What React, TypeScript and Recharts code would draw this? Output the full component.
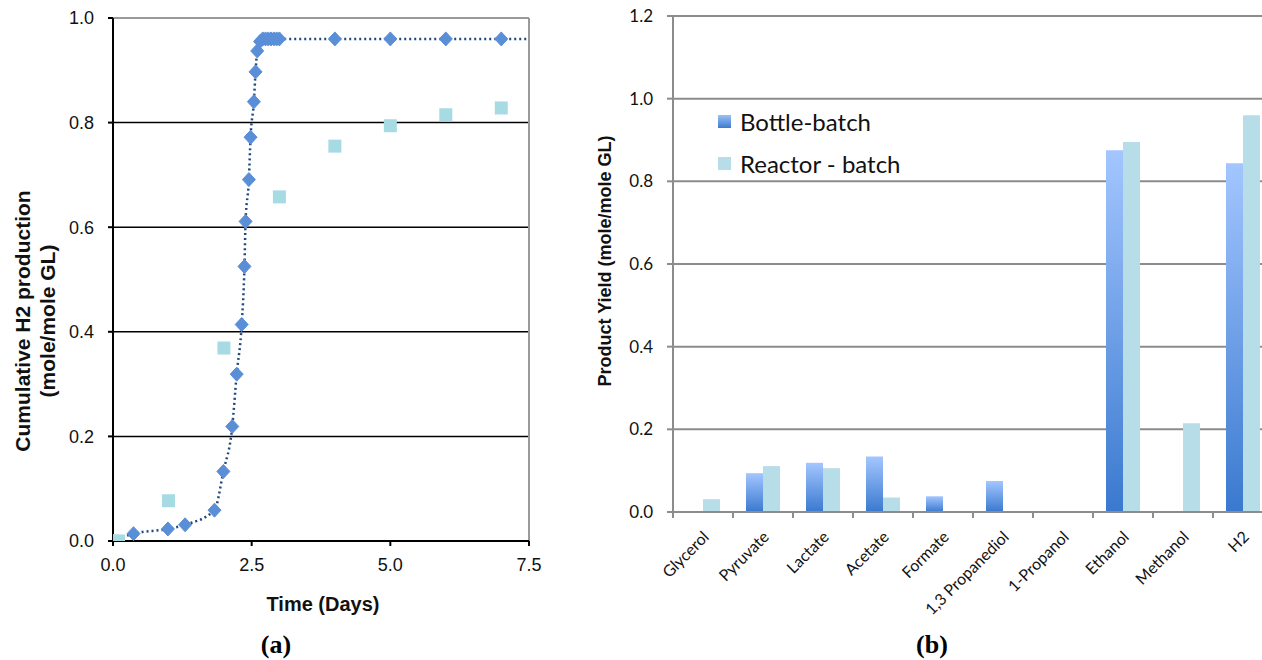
import React from 'react';
import {
  ComposedChart, Line, Scatter, XAxis, YAxis, CartesianGrid, ReferenceLine,
  BarChart, Bar,
} from 'recharts';

// ---------- Panel (a): cumulative H2 production ----------
const bottleTime = [0, 0.37, 0.99, 1.3, 1.83, 1.99, 2.15, 2.23, 2.32, 2.37, 2.39, 2.45, 2.48, 2.54, 2.57, 2.6, 2.65, 2.7, 2.75, 2.8, 2.85, 2.9, 2.95, 3.0, 4, 5, 6, 7];
const bottleH2 = [0, 0.014, 0.023, 0.031, 0.059, 0.133, 0.219, 0.319, 0.414, 0.525, 0.611, 0.691, 0.772, 0.84, 0.897, 0.937, 0.955, 0.96, 0.96, 0.96, 0.96, 0.96, 0.96, 0.96, 0.96, 0.96, 0.96, 0.96];
const curveEndTime = [7.5];
const curveEndH2 = [0.96];
const reactorTime = [0, 0.1, 1, 2, 3, 4, 5, 6, 7];
const reactorH2 = [0, 0, 0.077, 0.369, 0.658, 0.755, 0.794, 0.815, 0.828];
const timeTicks = [0, 2.5, 5, 7.5];
const h2Ticks = [0, 0.2, 0.4, 0.6, 0.8, 1.0];

// ---------- Panel (b): product yields ----------
const products = ['Glycerol', 'Pyruvate', 'Lactate', 'Acetate', 'Formate', '1,3 Propanediol', '1-Propanol', 'Ethanol', 'Methanol', 'H2'];
const bottleYield = [0, 0.094, 0.119, 0.134, 0.038, 0.075, 0, 0.875, 0, 0.844];
const reactorYield = [0.031, 0.111, 0.106, 0.035, 0, 0, 0, 0.895, 0.215, 0.96];
const yieldTicks = [0, 0.2, 0.4, 0.6, 0.8, 1.0, 1.2];
const seriesNames = ['Bottle-batch', 'Reactor - batch'];

const bottlePoints = bottleTime.map((x, i) => ({ x, y: bottleH2[i] }));
const curvePoints = bottlePoints.concat(curveEndTime.map((x, i) => ({ x, y: curveEndH2[i] })));
const reactorPoints = reactorTime.map((x, i) => ({ x, y: reactorH2[i] }));
const yieldData = products.map((name, i) => ({ name, bottle: bottleYield[i], reactor: reactorYield[i] }));

const ARIAL = '"Liberation Sans", Arial, sans-serif';
const CAL = 'Lato, "Liberation Sans", sans-serif';
const SERIF = '"Liberation Serif", "Times New Roman", serif';

const Diamond = (props: any) => {
  const { cx, cy } = props;
  if (cx == null || cy == null) return null;
  return <polygon points={`${cx},${cy - 7} ${cx + 6.5},${cy} ${cx},${cy + 7} ${cx - 6.5},${cy}`} fill="#5a8fd8" stroke="#5a8fd8" strokeWidth={1} strokeLinejoin="round" />;
};
const Square = (props: any) => {
  const { cx, cy } = props;
  if (cx == null || cy == null) return null;
  return <rect x={cx - 6.5} y={cy - 6.5} width={13} height={13} fill="#a6dbe4" />;
};

const HALF_BAND = 30;
const CatTick = (props: any) => {
  const { x, y, payload } = props;
  return (
    <g>
      <line x1={x - HALF_BAND} x2={x - HALF_BAND} y1={y} y2={y + 6} stroke="#8c8c8c" strokeWidth={2} />
      <text transform={`translate(${x + 3},${y + 22}) rotate(-45)`} textAnchor="end" dy="0.35em" fontSize={16} fontFamily={CAL} fill="#111">
        {payload.value}
      </text>
    </g>
  );
};

const rot = (left: number, top: number, extra: any = {}) => ({
  position: 'absolute' as const, left, top, transform: 'translate(-50%, -50%) rotate(-90deg)', whiteSpace: 'nowrap' as const, ...extra,
});

export default function App() {
  return (
    <div style={{ position: 'absolute', left: 0, top: 0, width: 1262, height: 660, overflow: 'hidden', background: '#fff' }}>
      {/* Panel (a) */}
      <div style={{ position: 'absolute', left: 0, top: 0 }}>
        <ComposedChart width={560} height={660} margin={{ top: 18, right: 31, left: 53, bottom: 89 }}>
          <CartesianGrid horizontal vertical={false} stroke="#000" strokeWidth={1.5} />
          <XAxis type="number" dataKey="x" domain={[0, 7.5]} ticks={timeTicks} allowDataOverflow
            tickFormatter={(v: number) => v.toFixed(1)} stroke="#000" strokeWidth={2} tickSize={5} tickMargin={12} height={30}
            tick={{ fill: '#111', fontSize: 18, fontFamily: ARIAL }} />
          <YAxis type="number" dataKey="y" domain={[0, 1]} ticks={h2Ticks} allowDataOverflow
            tickFormatter={(v: number) => v.toFixed(1)} stroke="#000" strokeWidth={2} tickSize={5} tickMargin={14} width={60}
            tick={{ fill: '#111', fontSize: 18, fontFamily: ARIAL }} />
          <ReferenceLine y={1} stroke="#9a9a9a" strokeWidth={2} />
          <ReferenceLine x={7.5} stroke="#9a9a9a" strokeWidth={2} />
          <Line data={curvePoints} dataKey="y" type="monotone" stroke="#1f497d" strokeWidth={2.5} strokeDasharray="2 3" dot={false} activeDot={false} isAnimationActive={false} />
          <Scatter data={bottlePoints} dataKey="y" shape={Diamond} isAnimationActive={false} />
          <Scatter data={reactorPoints} dataKey="y" shape={Square} isAnimationActive={false} />
        </ComposedChart>
      </div>
      <div style={rot(35, 321, { fontFamily: ARIAL, fontWeight: 'bold', fontSize: 21, lineHeight: '25px', textAlign: 'center', color: '#111' })}>
        Cumulative H2 production<br />(mole/mole GL)
      </div>
      <div style={{ position: 'absolute', left: 323, top: 604, transform: 'translate(-50%, -50%)', fontFamily: ARIAL, fontWeight: 'bold', fontSize: 20, color: '#111', whiteSpace: 'nowrap' }}>
        Time (Days)
      </div>
      <div style={{ position: 'absolute', left: 276, top: 645, transform: 'translate(-50%, -50%)', fontFamily: SERIF, fontWeight: 'bold', fontSize: 26, color: '#000' }}>
        (a)
      </div>

      {/* Panel (b) */}
      <div style={{ position: 'absolute', left: 560, top: 0 }}>
        <BarChart width={733} height={660} data={yieldData} margin={{ top: 16, right: 20, left: 53, bottom: 48 }} barSize={17} barGap={0}>
          <defs>
            <linearGradient id="bottleGrad" x1="0" y1="0" x2="0" y2="1">
              <stop offset="0%" stopColor="#a3c6ff" />
              <stop offset="100%" stopColor="#3a79cf" />
            </linearGradient>
          </defs>
          <CartesianGrid horizontal vertical={false} stroke="#8c8c8c" strokeWidth={2} />
          <XAxis dataKey="name" interval={0} tickLine={false} tickSize={0} tickMargin={0} height={100} stroke="#8c8c8c" strokeWidth={2} tick={<CatTick />} />
          <YAxis domain={[0, 1.2]} ticks={yieldTicks} tickFormatter={(v: number) => v.toFixed(1)} stroke="#8c8c8c" strokeWidth={2}
            tickSize={6} tickMargin={14} width={60} tick={{ fill: '#111', fontSize: 17, fontFamily: CAL }} />
          <Bar dataKey="bottle" name={seriesNames[0]} fill="url(#bottleGrad)" isAnimationActive={false} />
          <Bar dataKey="reactor" name={seriesNames[1]} fill="#b7dde8" isAnimationActive={false} />
        </BarChart>
      </div>
      <div style={{ position: 'absolute', left: 718, top: 100, fontFamily: CAL, fontSize: 24, color: '#111' }}>
        {seriesNames.map((n, i) => (
          <div key={n} style={{ display: 'flex', alignItems: 'center', height: 42 }}>
            <div style={{ width: 13, height: 13, marginRight: 9, background: i === 0 ? 'linear-gradient(#9cc0f6, #3d7bd0)' : '#b7dde8' }} />
            <span>{n}</span>
          </div>
        ))}
      </div>
      <div style={rot(605, 261, { fontFamily: ARIAL, fontWeight: 'bold', fontSize: 18, color: '#111' })}>
        Product Yield (mole/mole GL)
      </div>
      <div style={{ position: 'absolute', left: 932, top: 645, transform: 'translate(-50%, -50%)', fontFamily: SERIF, fontWeight: 'bold', fontSize: 26, color: '#000' }}>
        (b)
      </div>
    </div>
  );
}
